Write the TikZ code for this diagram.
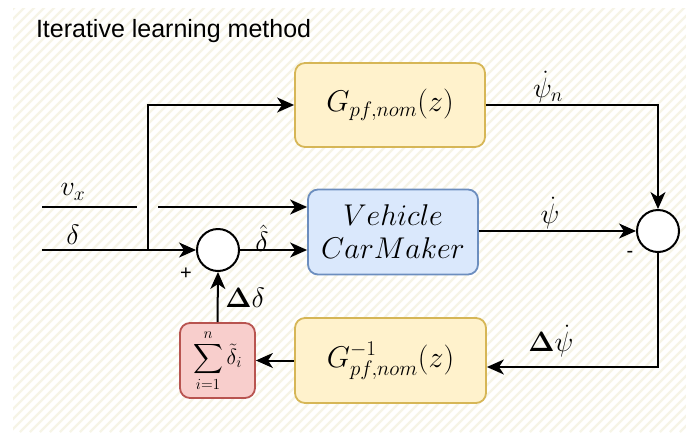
\RequirePackage{fix-cm}
\documentclass[tikz,border=0pt]{standalone}
\usepackage{amsmath}
\usepackage{fontspec}
\newfontfamily\titlefont{Liberation Sans}
\usetikzlibrary{arrows.meta}
\definecolor{gfill}{HTML}{FFF2CC}
\definecolor{gdraw}{HTML}{D6B656}
\definecolor{bfill}{HTML}{DAE8FC}
\definecolor{bdraw}{HTML}{6C8EBF}
\definecolor{rfill}{HTML}{F8CECC}
\definecolor{rdraw}{HTML}{B85450}
\definecolor{hatchcol}{RGB}{246,244,230}
\begin{document}
\begin{tikzpicture}[x=1pt,y=-1pt,
  line width=2pt,
  arr/.style={-{Stealth[length=17pt,width=15pt,inset=5pt]}},
  blk/.style={draw,rounded corners=10pt,line width=1.8pt,align=center,inner sep=0pt,
    font=\fontsize{30}{33}\selectfont},
  gblk/.style={blk,fill=gfill,draw=gdraw,minimum width=190pt,minimum height=84pt},
  bblk/.style={blk,fill=bfill,draw=bdraw,minimum width=170pt,minimum height=85pt},
  rblk/.style={blk,fill=rfill,draw=rdraw,minimum width=75pt,minimum height=75pt,
    font=\fontsize{22}{26}\selectfont},
  sumc/.style={circle,draw,fill=white,minimum size=42pt,inner sep=0pt,line width=2pt},
  lbl/.style={font=\fontsize{28}{32}\selectfont,inner sep=0pt},
  sgn/.style={font=\titlefont\fontsize{20}{24}\selectfont,inner sep=0pt}
]
\useasboundingbox (0,0) rectangle (686,432);
% hatched background
\begin{scope}
  \clip (13,8) rectangle (686,432);
  \foreach \k in {-430,-420,...,690}
    \draw[hatchcol,line width=2.4pt] (\k,432) -- ++(430,-430);
\end{scope}
% title
\node[anchor=base west,inner sep=0pt,font=\titlefont\fontsize{25}{30}\selectfont] (title) at (35,37) {Iterative learning method};
% blocks
\node[gblk] (gtop) at (390,105) {$G_{pf,nom}(z)$};
\node[bblk] (veh) at (393,232) {$Vehicle$\\$CarMaker$};
\node[gblk,minimum width=191pt,minimum height=85pt] (ginv) at (390.5,360.5) {$G^{-1}_{pf,nom}(z)$};
\node[rblk] (acc) at (217.5,360.5) {$\displaystyle\sum_{i=1}^{n}\tilde{\delta}_i$};
\node[sumc] (sumL) at (218,250) {};
\node[sumc] (sumR) at (658,231) {};
% coordinates
\coordinate (inD) at (42,250);
\coordinate (br) at (148,250);
\coordinate (inV) at (42,207);
\coordinate (vg1) at (137,207);
\coordinate (vg2) at (158,207);
\coordinate (dn) at (658,367);
% connectors
\draw[arr] (inD) -- (sumL.west);
\draw[arr] (br) |- (gtop.west);
\draw (inV) -- (vg1);
\draw[arr] (vg2) -- (veh.west |- vg2);
\draw[arr] (sumL.east) -- (veh.west |- sumL.east);
\draw[arr] (gtop.east) -| (sumR.north);
\draw[arr] (veh.east |- sumR.west) -- (sumR.west);
\draw[arr] (sumR.south) -- (dn) -- (ginv.east |- dn);
\draw[arr] (ginv.west) -- (acc.east |- ginv.west);
\draw[arr] (acc.north) -- (sumL.south);
% labels
\node[lbl] (lvx) at (73,192) {$v_x$};
\node[lbl] (ld) at (73,235) {$\delta$};
\node[lbl] (ldh) at (262,238) {$\hat{\delta}$};
\node[lbl] (lpn) at (548,87) {$\dot{\psi}_n$};
\node[lbl] (lp) at (550,213) {$\dot{\psi}$};
\node[lbl] (ldp) at (551,341) {$\boldsymbol{\Delta}\dot{\psi}$};
\node[lbl] (ldd) at (245,298) {$\boldsymbol{\Delta}\delta$};
\node[sgn] (plus) at (186,274) {+};
\node[sgn] (minus) at (630,254) {-};
\end{tikzpicture}
\end{document}
